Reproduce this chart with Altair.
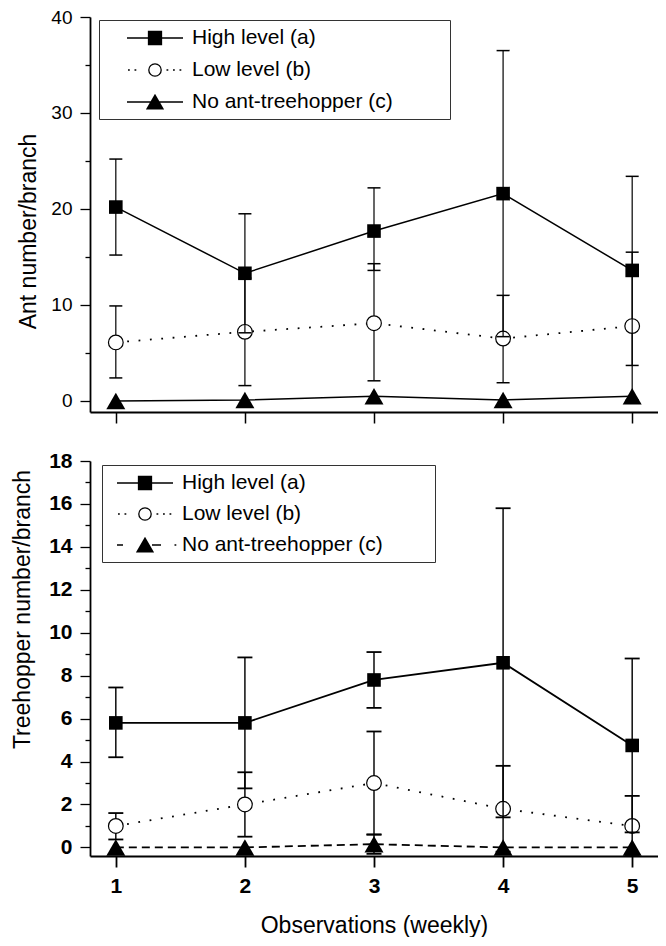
import altair as alt
import pandas as pd

weeks = [1, 2, 3, 4, 5]
series_names = ["High level (a)", "Low level (b)", "No ant-treehopper (c)"]

# Top panel: ant number per branch
ant_high = [20.2, 13.3, 17.7, 21.6, 13.6]
ant_high_lo = [15.2, 7.1, 13.6, 6.7, 3.7]
ant_high_hi = [25.2, 19.5, 22.2, 36.5, 23.4]
ant_low = [6.1, 7.2, 8.1, 6.5, 7.8]
ant_low_lo = [2.4, 1.6, 2.1, 1.9, 0.1]
ant_low_hi = [9.9, 12.8, 14.3, 11.0, 15.5]
ant_none = [0.0, 0.1, 0.5, 0.1, 0.5]

# Bottom panel: treehopper number per branch
th_high = [5.8, 5.8, 7.8, 8.6, 4.75]
th_high_lo = [4.2, 2.75, 6.5, 1.4, 0.7]
th_high_hi = [7.45, 8.85, 9.1, 15.8, 8.8]
th_low = [1.0, 2.0, 3.0, 1.8, 1.0]
th_low_lo = [0.37, 0.5, 0.6, -0.2, -0.4]
th_low_hi = [1.6, 3.5, 5.4, 3.8, 2.4]
th_none = [0.0, 0.0, 0.15, 0.0, 0.0]
th_none_lo = [0.0, 0.0, -0.3, 0.0, 0.0]
th_none_hi = [0.0, 0.0, 0.6, 0.0, 0.0]

FONT = "Liberation Sans"
W, H = 568, 395


def frame(vals, lo=None, hi=None):
    d = {"week": weeks, "value": vals}
    if lo is not None:
        d["lo"] = lo
        d["hi"] = hi
    return pd.DataFrame(d)


# ---- legend symbol paths (line + marker), units of 10 px, stroke-only ----
def f(v):
    return f"{v:.2f}"


def sq_path(cx, half=0.65):
    parts = [f"M{f(cx-half)},{f(-half)}H{f(cx+half)}V{f(half)}H{f(cx-half)}Z"]
    y = -half + 0.1
    while y < half - 0.05:
        parts.append(f"M{f(cx-half)},{f(y)}H{f(cx+half)}")
        y += 0.11
    return "".join(parts)


def tri_path(cx, hw=0.8, top=-0.7, bot=0.68):
    parts = [f"M{f(cx-hw)},{f(bot)}L{f(cx)},{f(top)}L{f(cx+hw)},{f(bot)}Z"]
    y = top + 0.1
    while y < bot - 0.03:
        w = hw * (y - top) / (bot - top)
        parts.append(f"M{f(cx-w)},{f(y)}H{f(cx+w)}")
        y += 0.1
    return "".join(parts)


def circ_path(cx, r=0.62):
    return f"M{f(cx+r)},0A{r},{r},0,1,1,{f(cx-r)},0A{r},{r},0,1,1,{f(cx+r)},0Z"


def dots(xs):
    return "".join(f"M{f(x)},0h0.18" for x in xs)


def legend_paths(cx, ext, bottom):
    left, right = cx - 2.8, cx + 2.8
    high = f"M{ext},0M{f(left)},0H{f(right)}" + sq_path(cx)
    low = f"M{ext},0" + dots([cx - 2.7, cx - 2.05, cx + 1.15, cx + 1.8, cx + 2.45]) + circ_path(cx)
    if bottom:
        none = (f"M{ext},0M{f(left)},0H{f(left+0.6)}M{f(cx+0.7)},0H{f(cx+1.6)}"
                + dots([cx + 2.95]) + tri_path(cx))
    else:
        none = f"M{ext},0M{f(left)},0H{f(right)}" + tri_path(cx)
    return [high, low, none]


def panel(high, low, none, ydom, yvals, major, ylab_size, ylab_weight,
          ytitle, title_x, title_y, paths, legend_xy, label_offset, row_pad,
          none_dash, bottom, sw):
    xaxis = alt.Axis(
        values=weeks, format="d", grid=False, labels=bottom,
        labelFont=FONT, labelFontSize=21, labelFontWeight="bold",
        labelColor="black", labelPadding=8, labelFlush=False,
        tickSize=11, tickWidth=sw, tickColor="black",
        domainColor="black", domainWidth=1.8,
        title="Observations (weekly)" if bottom else None,
        titleFont=FONT, titleFontSize=23, titleFontWeight="normal",
        titleColor="black", titlePadding=18,
    )
    yaxis = alt.Axis(
        values=yvals, grid=False,
        labelExpr=f"datum.value % {major} === 0 ? datum.label : ''",
        labelFont=FONT, labelFontSize=ylab_size, labelFontWeight=ylab_weight,
        labelColor="black", labelPadding=8, labelFlush=False, labelOverlap=False,
        tickSize={"condition": {"test": f"datum.value % {major} === 0", "value": 10}, "value": 5},
        tickWidth=1.3, tickColor="black",
        domainColor="black", domainWidth=1.8,
        title=ytitle, titleFont=FONT, titleFontSize=23, titleFontWeight="normal",
        titleColor="black", titleX=title_x, titleY=title_y, titleAngle=270,
        titleAlign="center", titleBaseline="alphabetic",
    )
    xs = alt.Scale(domain=[0.8, 5.2], nice=False, zero=False)
    ys = alt.Scale(domain=ydom, nice=False, zero=False)

    def X():
        return alt.X("week:Q", scale=xs, axis=xaxis)

    def Y(fld):
        return alt.Y(f"{fld}:Q", scale=ys, axis=yaxis)

    def errs(df, capw):
        df = df[df["lo"] != df["hi"]]
        b = alt.Chart(df)
        rule = b.mark_rule(color="black", strokeWidth=sw * 0.8).encode(x=X(), y=Y("lo"), y2="hi:Q")
        c1 = b.mark_tick(orient="horizontal", size=capw, thickness=sw, color="black", opacity=1).encode(x=X(), y=Y("lo"))
        c2 = b.mark_tick(orient="horizontal", size=capw, thickness=sw, color="black", opacity=1).encode(x=X(), y=Y("hi"))
        return [rule, c1, c2]

    capw = 15 if bottom else 13
    layers = []
    layers += errs(low, capw)
    layers.append(alt.Chart(low).mark_line(color="black", strokeWidth=1.8, strokeDash=[1.8, 9.6]).encode(x=X(), y=Y("value")))
    layers.append(alt.Chart(low).mark_point(shape="circle", filled=True, fill="white", stroke="black",
                                            strokeWidth=1.2, size=216, opacity=1).encode(x=X(), y=Y("value")))
    layers += errs(high, capw)
    layers.append(alt.Chart(high).mark_line(color="black", strokeWidth=sw).encode(x=X(), y=Y("value")))
    layers.append(alt.Chart(high).mark_point(shape="square", filled=True, color="black",
                                             size=185, opacity=1).encode(x=X(), y=Y("value")))
    if "lo" in none.columns:
        layers += errs(none, capw)
    nline = dict(color="black", strokeWidth=sw)
    if none_dash:
        nline["strokeDash"] = none_dash
    layers.append(alt.Chart(none).mark_line(**nline).encode(x=X(), y=Y("value")))
    layers.append(alt.Chart(none).mark_point(shape="triangle-up", filled=True, color="black",
                                             size=360, opacity=1).encode(x=X(), y=Y("value")))

    leg = alt.Legend(
        orient="none", legendX=legend_xy[0], legendY=legend_xy[1], title=None,
        padding=7, rowPadding=row_pad, symbolSize=400, symbolStrokeWidth=1.3,
        symbolStrokeColor="black", symbolOpacity=1, labelFont=FONT, labelFontSize=21,
        labelColor="black", labelOffset=label_offset, symbolOffset=0,
        strokeColor="#333333", fillColor="white", labelLimit=500, direction="vertical",
    )
    # legend-only layer: its points sit outside the y domain and are clipped away
    leg_df = pd.DataFrame({"week": [1, 1, 1], "value": [ydom[0] - 1000] * 3, "series": series_names})
    layers.append(alt.Chart(leg_df).mark_point(filled=False, stroke="black", strokeWidth=1.3,
                                               clip=True, opacity=1).encode(
        x=X(), y=Y("value"),
        shape=alt.Shape("series:N", scale=alt.Scale(domain=series_names, range=paths), legend=leg),
    ))
    return alt.layer(*layers).properties(width=W, height=H)


top = panel(
    frame(ant_high, ant_high_lo, ant_high_hi), frame(ant_low, ant_low_lo, ant_low_hi), frame(ant_none),
    [-1.15, 40], list(range(0, 41, 5)), 10, 19, "normal",
    "Ant number/branch", -55, 214, legend_paths(3.8, 32.3, False), (9, 3), 64, 11, None, False, 1.5,
)
bottom = panel(
    frame(th_high, th_high_lo, th_high_hi), frame(th_low, th_low_lo, th_low_hi),
    frame(th_none, th_none_lo, th_none_hi),
    [-0.4, 18], list(range(0, 19, 1)), 2, 21, "bold",
    "Treehopper number/branch", -61, 148, legend_paths(2.5, 30.5, True), (12, 4), 51, 10, [8, 5], True, 1.8,
)

chart = alt.vconcat(top, bottom, spacing=26).resolve_scale(
    shape="independent"
).resolve_legend(shape="independent").properties(
    padding={"left": 2, "top": 0, "right": 0, "bottom": 0}, background="white"
).configure_view(stroke=None)

chart.save("out.html", embed_options={"renderer": "svg", "actions": False})
